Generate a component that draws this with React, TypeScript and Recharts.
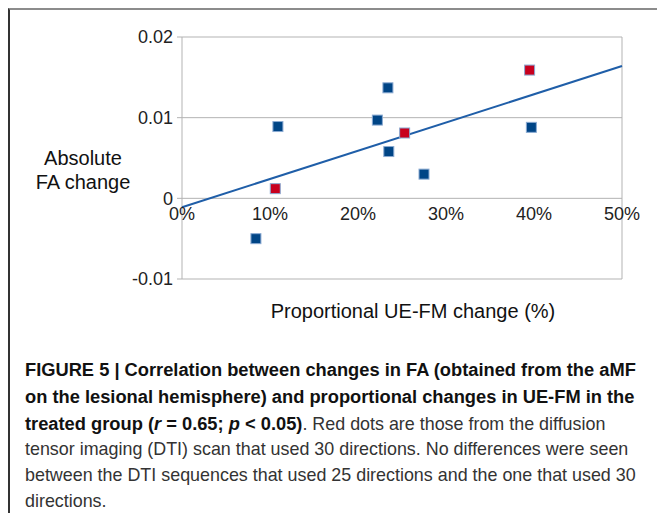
import { ScatterChart, Scatter, XAxis, YAxis, CartesianGrid, ReferenceLine } from 'recharts';

// proportional UE-FM change (%) vs absolute FA change
const blueX = [8.4, 10.9, 22.2, 23.4, 23.5, 27.5, 39.7];
const blueY = [-0.005, 0.0089, 0.0097, 0.0137, 0.0058, 0.003, 0.0088];
const redX = [10.6, 25.3, 39.5]; // 30-direction DTI scans
const redY = [0.0012, 0.0081, 0.0159];
const trendX = [0, 50];
const trendY = [-0.0011, 0.0164];

const xTicks = [0, 10, 20, 30, 40, 50];
const yTicks = [-0.01, 0, 0.01, 0.02];

const Y_MIN = -0.01;
const Y_MAX = 0.02;
const PLOT_H = 242;

const toPoints = (xs: number[], ys: number[]) => xs.map((x, i) => ({ x, y: ys[i] }));

const blueData = toPoints(blueX, blueY);
const redData = toPoints(redX, redY);
const trendData = toPoints(trendX, trendY);

const font = "'Liberation Sans', Arial, sans-serif";

function square(color: string) {
  return (props: any) => {
    const { cx, cy } = props;
    return <rect x={cx - 5} y={cy - 5} width={10} height={10} fill={color} stroke="#8aaad2" strokeWidth={1} />;
  };
}

// x tick labels sit under the y = 0 line, not under the plot
function XTick(props: any) {
  const { x, y, payload } = props;
  const shift = (PLOT_H * (0 - Y_MIN)) / (Y_MAX - Y_MIN);
  return (
    <text x={x} y={y - shift} dy={14} textAnchor="middle" fill="#222" fontSize={18} fontFamily={font}>
      {payload.value}%
    </text>
  );
}

export default function App() {
  return (
    <div style={{ position: 'absolute', left: 0, top: 0, width: 657, height: 513, background: '#fff', fontFamily: font, overflow: 'hidden' }}>
      <div style={{ position: 'absolute', left: 8, top: 8, width: 649, height: 505, borderTop: '2px solid #8c8c8c', borderLeft: '2px solid #333', boxSizing: 'border-box' }} />

      <div style={{ position: 'absolute', left: 23, top: 146, width: 120, textAlign: 'center', fontSize: 20, lineHeight: '24px', color: '#111' }}>
        Absolute<br />FA change
      </div>

      <div style={{ position: 'absolute', left: 0, top: 0 }}>
        <ScatterChart width={657} height={340} margin={{ top: 37, right: 35, left: 122, bottom: 31 }}>
          <CartesianGrid vertical={false} stroke="#b3b3b3" />
          <XAxis
            type="number"
            dataKey="x"
            domain={[0, 50]}
            ticks={xTicks}
            axisLine={false}
            tickLine={false}
            height={30}
            tick={<XTick />}
          />
          <YAxis
            type="number"
            dataKey="y"
            domain={[Y_MIN, Y_MAX]}
            ticks={yTicks}
            width={60}
            stroke="#b3b3b3"
            tickSize={5}
            tickMargin={4}
            tick={{ fill: '#222', fontSize: 18, fontFamily: font }}
            tickFormatter={(v: number) => (v === 0 ? '0' : v.toFixed(2))}
          />
          <ReferenceLine x={50} stroke="#b3b3b3" />
          <Scatter data={trendData} line={{ stroke: '#1f5ea8', strokeWidth: 2 }} shape={() => <g />} isAnimationActive={false} />
          <Scatter data={blueData} shape={square('#004586')} isAnimationActive={false} />
          <Scatter data={redData} shape={square('#c8001e')} isAnimationActive={false} />
        </ScatterChart>
      </div>

      <div style={{ position: 'absolute', left: 413, top: 300, transform: 'translateX(-50%)', fontSize: 20, color: '#111', whiteSpace: 'nowrap' }}>
        Proportional UE-FM change (%)
      </div>

      <div style={{ position: 'absolute', left: 25, top: 357, width: 632, fontSize: 17.9, lineHeight: '25.8px', color: '#333', whiteSpace: 'nowrap' }}>
        <b style={{ color: '#111', fontSize: 18.3 }}>FIGURE 5 | Correlation between changes in FA (obtained from the aMF</b><br />
        <b style={{ color: '#111', fontSize: 18.3 }}>on the lesional hemisphere) and proportional changes in UE-FM in the</b><br />
        <b style={{ color: '#111', fontSize: 18.3 }}>treated group (<i>r</i> = 0.65; <i>p</i> &lt; 0.05)</b>. Red dots are those from the diffusion<br />
        tensor imaging (DTI) scan that used 30 directions. No differences were seen<br />
        between the DTI sequences that used 25 directions and the one that used 30<br />
        directions.
      </div>
    </div>
  );
}
